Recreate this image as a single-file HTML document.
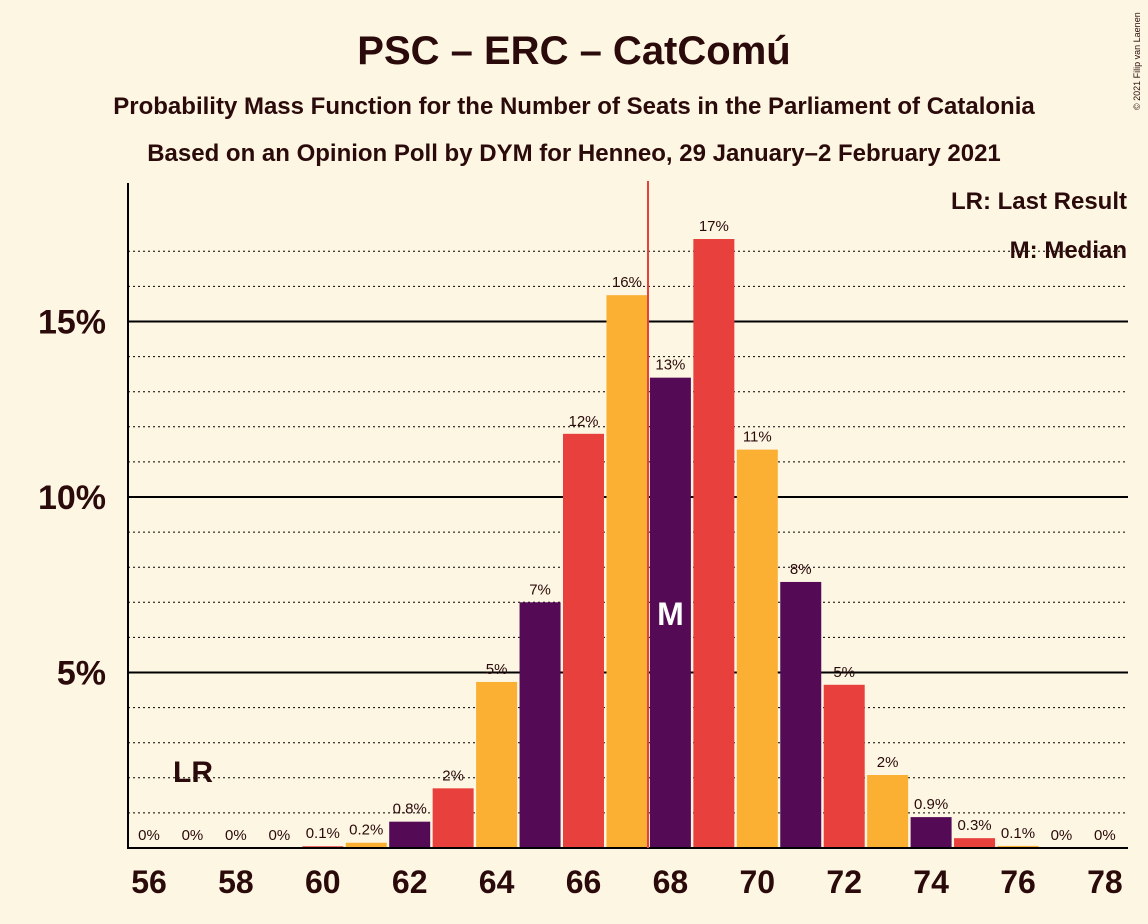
<!DOCTYPE html>
<html><head><meta charset="utf-8"><style>
body{margin:0;background:#fdf6e3;}
svg{display:block;font-family:"Liberation Sans",sans-serif;}
</style></head><body>
<svg id="chart" width="1148" height="924" viewBox="0 0 1148 924">
<rect width="1148" height="924" fill="#fdf6e3"/>
<text x="574" y="64" text-anchor="middle" font-size="40" font-weight="bold" fill="#2a0a0a">PSC – ERC – CatComú</text>
<text x="574" y="114" text-anchor="middle" font-size="24" font-weight="bold" fill="#2a0a0a">Probability Mass Function for the Number of Seats in the Parliament of Catalonia</text>
<text x="574" y="161" text-anchor="middle" font-size="24" font-weight="bold" fill="#2a0a0a">Based on an Opinion Poll by DYM for Henneo, 29 January–2 February 2021</text>
<text x="1140" y="110" font-size="9" fill="#2a0a0a" transform="rotate(-90 1140 110)">© 2021 Filip van Laenen</text>
<g id="grid"></g>
<g id="bars"></g>
<g id="labels"></g>
<line x1="128" y1="183" x2="128" y2="849" stroke="#000" stroke-width="2"/>
<line x1="128" y1="848" x2="1128" y2="848" stroke="#000" stroke-width="2"/>
<line x1="648" y1="181" x2="648" y2="848" stroke="#e8403c" stroke-width="2"/>
<text x="1127" y="209" text-anchor="end" font-size="24" font-weight="bold" fill="#2a0a0a">LR: Last Result</text>
<text x="1127" y="258" text-anchor="end" font-size="24" font-weight="bold" fill="#2a0a0a">M: Median</text>
<text x="193" y="782" text-anchor="middle" font-size="30" font-weight="bold" fill="#2a0a0a">LR</text>
</svg>
<script>
const seats=[56,57,58,59,60,61,62,63,64,65,66,67,68,69,70,71,72,73,74,75,76,77,78];
const probs=[0,0,0,0,0.05,0.15,0.75,1.7,4.73,7.0,11.8,15.75,13.4,17.35,11.35,7.58,4.65,2.08,0.88,0.28,0.06,0,0];
const valueLabels=["0%","0%","0%","0%","0.1%","0.2%","0.8%","2%","5%","7%","12%","16%","13%","17%","11%","8%","5%","2%","0.9%","0.3%","0.1%","0%","0%"];
const yTicks=[5,10,15];
const xTickSeats=[56,58,60,62,64,66,68,70,72,74,76,78];
const medianSeat=68;
const NS="http://www.w3.org/2000/svg";
const y=v=>848-v*35.1;
const x=s=>149+(s-56)*43.45;
const colorFor=s=>["#e8403c","#fbb034","#550a55"][s%3];
function mk(tag,attrs,parent){const e=document.createElementNS(NS,tag);for(const k in attrs)e.setAttribute(k,attrs[k]);document.getElementById(parent).appendChild(e);return e;}
for(let p=1;p<=17;p++){
  if(yTicks.includes(p))continue;
  const l=mk("line",{x1:128,x2:1128,y1:y(p),y2:y(p),stroke:"#000","stroke-width":1,"stroke-dasharray":"2,3"},"grid");
  
  
}
yTicks.forEach(t=>{
  const l=mk("line",{x1:128,x2:1128,y1:y(t),y2:y(t),stroke:"#000","stroke-width":2},"grid");
  
  
  const tx=mk("text",{x:106,y:y(t)+12,"text-anchor":"end","font-size":34,"font-weight":"bold",fill:"#2a0a0a"},"labels");
  tx.textContent=t+"%";
  
  
});
seats.forEach((s,i)=>{
  const v=probs[i];
  if(v>0){
    const r=mk("rect",{x:x(s)-20.5,y:y(v),width:41,height:848-y(v),fill:colorFor(s)},"bars");
    
    
  }
  const lt=mk("text",{x:x(s),y:y(v)-8,"text-anchor":"middle","font-size":15,fill:"#2a0a0a"},"labels");
  lt.textContent=valueLabels[i];
  
  
  if(s===medianSeat){
    const m=mk("text",{x:x(s),y:y(v/2)+12,"text-anchor":"middle","font-size":32,"font-weight":"bold",fill:"#fff"},"labels");
    m.textContent="M";
    
    
  }
});
xTickSeats.forEach(s=>{
  const t=mk("text",{x:x(s),y:893,"text-anchor":"middle","font-size":32,"font-weight":"bold",fill:"#2a0a0a"},"labels");
  t.textContent=s;
  
  
});
</script>
</body></html>
